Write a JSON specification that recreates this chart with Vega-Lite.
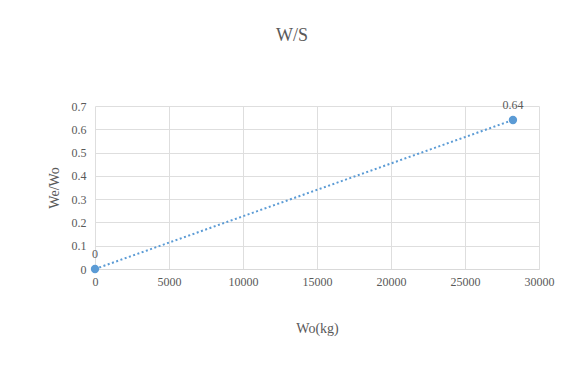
{
  "$schema": "https://vega.github.io/schema/vega-lite/v6.json",
  "width": 444,
  "height": 163,
  "autosize": {"type": "none"},
  "padding": {"left": 95, "top": 106, "right": 36, "bottom": 110},
  "background": "white",
  "config": {
    "font": "'Liberation Serif', 'Times New Roman', 'DejaVu Serif', serif",
    "view": {"stroke": null}
  },
  "title": {
    "text": "W/S",
    "fontSize": 18,
    "fontWeight": "normal",
    "color": "#595959",
    "font": "'Liberation Serif', 'Times New Roman', 'DejaVu Serif', serif",
    "offset": 54,
    "dx": -25
  },
  "data": {
    "values": [
      {"Wo": 0, "WeWo": 0, "label": "0"},
      {"Wo": 28240, "WeWo": 0.64, "label": "0.64"}
    ]
  },
  "encoding": {
    "x": {
      "field": "Wo",
      "type": "quantitative",
      "scale": {"domain": [0, 30000], "nice": false},
      "axis": {
        "title": "Wo(kg)",
        "values": [0, 5000, 10000, 15000, 20000, 25000, 30000],
        "format": "d",
        "grid": true,
        "gridColor": "#dedede",
        "domainColor": "#d9d9d9",
        "ticks": false,
        "labelFlush": false,
        "labelOverlap": false,
        "labelColor": "#595959",
        "labelFontSize": 12,
        "labelPadding": 7,
        "titleColor": "#595959",
        "titleFontSize": 14,
        "titleFontWeight": "normal",
        "titlePadding": 34
      }
    },
    "y": {
      "field": "WeWo",
      "type": "quantitative",
      "scale": {"domain": [0, 0.7], "nice": false},
      "axis": {
        "title": "We/Wo",
        "values": [0, 0.1, 0.2, 0.3, 0.4, 0.5, 0.6, 0.7],
        "format": "~g",
        "grid": true,
        "gridColor": "#dedede",
        "domain": false,
        "ticks": false,
        "labelFlush": false,
        "labelOverlap": false,
        "labelColor": "#595959",
        "labelFontSize": 12,
        "labelPadding": 9,
        "titleColor": "#595959",
        "titleFontSize": 14,
        "titleFontWeight": "normal",
        "titlePadding": 10
      }
    }
  },
  "layer": [
    {
      "mark": {"type": "line", "color": "#5B9BD5", "strokeWidth": 2, "strokeDash": [2, 2.5]},
      "encoding": {}
    },
    {
      "mark": {"type": "circle", "color": "#5B9BD5", "size": 70, "opacity": 1}
    },
    {
      "mark": {"type": "text", "dy": -15, "fontSize": 12, "color": "#595959"},
      "encoding": {"text": {"field": "label"}}
    }
  ]
}
